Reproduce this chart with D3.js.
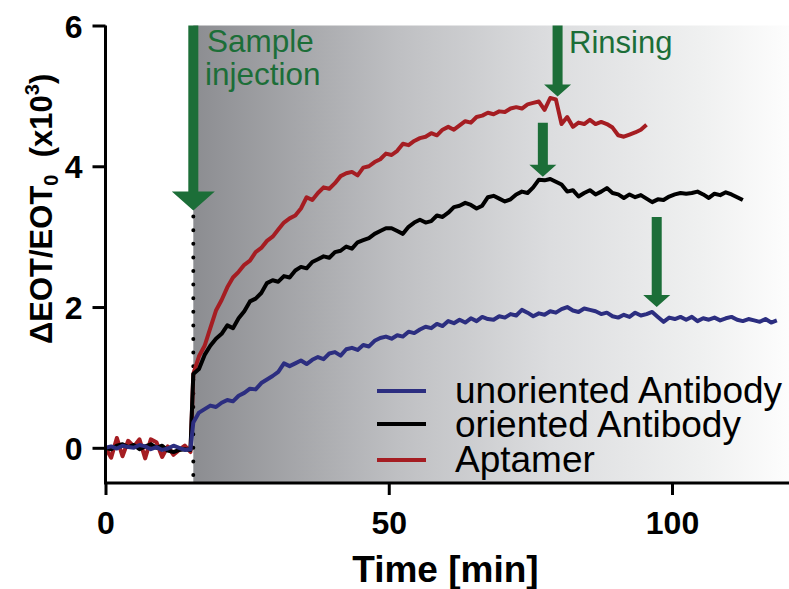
<!DOCTYPE html>
<html>
<head>
<meta charset="utf-8">
<script src="https://cdn.jsdelivr.net/npm/d3@7"></script>
<style>
  html, body { margin: 0; padding: 0; background: #fff; }
  svg { display: block; font-family: "Liberation Sans", Arial, sans-serif; }
</style>
</head>
<body>
<svg id="chart" width="789" height="589"></svg>
<script>
// Time of sample injection (min); values before it are sampled at t = 0,1,...,15,
// values after it at t = 15.5, 16.5, 17.5, ...
const injectionTime = 15.5;

const seriesNames = ["unoriented Antibody", "oriented Antibody", "Aptamer"];
const seriesColors = ["#2c2e80", "#000000", "#a51d22"];

// ΔEOT/EOT0 (x10^3), unoriented antibody
const unorientedPre = [0.00, 0.02, -0.01, 0.03, 0.01, 0.00, 0.04, 0.02, -0.02, 0.01, -0.03, -0.01, 0.03, 0.00, -0.03, -0.02];
const unorientedPost = [
  0.36, 0.50, 0.55, 0.60, 0.58, 0.64, 0.68, 0.66, 0.74, 0.78,
  0.84, 0.83, 0.92, 0.97, 1.02, 1.08, 1.20, 1.16, 1.20, 1.24,
  1.19, 1.25, 1.29, 1.26, 1.34, 1.36, 1.31, 1.40, 1.42, 1.39,
  1.46, 1.44, 1.52, 1.56, 1.58, 1.55, 1.60, 1.58, 1.65, 1.63,
  1.68, 1.72, 1.70, 1.76, 1.73, 1.80, 1.77, 1.82, 1.78, 1.84,
  1.80, 1.86, 1.83, 1.82, 1.87, 1.85, 1.90, 1.88, 1.96, 1.92,
  1.87, 1.91, 1.89, 1.94, 1.92, 1.97, 2.00, 1.95, 1.93, 1.98,
  1.96, 1.94, 1.90, 1.92, 1.87, 1.85, 1.89, 1.86, 1.92, 1.88,
  1.90, 1.93, 1.86, 1.79, 1.85, 1.83, 1.86, 1.82, 1.86, 1.80,
  1.84, 1.82, 1.85, 1.81, 1.84, 1.86, 1.82, 1.80, 1.83, 1.81,
  1.79, 1.83, 1.78, 1.81
];

// oriented antibody
const orientedPre = [0.00, -0.02, 0.03, 0.05, 0.01, 0.04, -0.02, 0.02, 0.05, 0.00, 0.03, -0.04, -0.06, -0.03, -0.02, -0.03];
const orientedPost = [
  1.05, 1.12, 1.32, 1.45, 1.55, 1.62, 1.74, 1.70, 1.84, 1.94,
  2.08, 2.12, 2.20, 2.34, 2.38, 2.36, 2.44, 2.42, 2.52, 2.57,
  2.55, 2.64, 2.68, 2.72, 2.70, 2.78, 2.80, 2.86, 2.83, 2.92,
  2.95, 2.98, 3.04, 3.08, 3.12, 3.12, 3.08, 3.04, 3.14, 3.20,
  3.24, 3.20, 3.22, 3.30, 3.28, 3.34, 3.42, 3.44, 3.48, 3.45,
  3.40, 3.44, 3.56, 3.58, 3.54, 3.50, 3.53, 3.60, 3.64, 3.62,
  3.70, 3.81, 3.80, 3.82, 3.78, 3.74, 3.64, 3.66, 3.57, 3.62,
  3.66, 3.60, 3.64, 3.69, 3.62, 3.60, 3.55, 3.60, 3.56, 3.59,
  3.54, 3.49, 3.53, 3.52, 3.57, 3.60, 3.62, 3.61, 3.62, 3.64,
  3.60, 3.55, 3.61, 3.59, 3.63, 3.60, 3.56, 3.52
];

// aptamer
const aptamerPre = [0.00, -0.14, 0.14, -0.12, 0.10, 0.02, 0.12, -0.15, 0.12, 0.08, -0.13, 0.02, -0.10, -0.03, 0.03, -0.06];
const aptamerPost = [
  1.05, 1.30, 1.45, 1.70, 1.95, 2.10, 2.28, 2.42, 2.50, 2.60,
  2.66, 2.78, 2.84, 2.94, 3.00, 3.10, 3.20, 3.26, 3.30, 3.40,
  3.56, 3.52, 3.62, 3.70, 3.68, 3.76, 3.86, 3.90, 3.92, 3.87,
  3.98, 4.00, 4.06, 4.10, 4.18, 4.16, 4.22, 4.32, 4.30, 4.36,
  4.40, 4.42, 4.47, 4.44, 4.52, 4.56, 4.52, 4.58, 4.64, 4.62,
  4.70, 4.72, 4.76, 4.74, 4.78, 4.77, 4.82, 4.84, 4.82, 4.88,
  4.90, 4.92, 4.80, 4.97, 4.95, 4.60, 4.70, 4.56, 4.62, 4.60,
  4.66, 4.60, 4.63, 4.60, 4.55, 4.44, 4.42, 4.45, 4.48, 4.52,
  4.59
];

const xTicks = [0, 50, 100];
const yTicks = [0, 2, 4, 6];

// Arrow annotations: time, shaft top value, tip value, head half-width, head height (px)
const arrowTimes = [15.5, 79.8, 77.2, 97.3];
const arrowTops = [6.0, 6.0, 4.62, 3.28];
const arrowTips = [3.37, 4.99, 3.85, 2.0];
const arrowHeadHalf = [21.5, 13.5, 13.5, 13.5];
const arrowHeadLen = [19, 12, 12, 12];

const svg = d3.select("#chart");
const x = d3.scaleLinear().domain([0, 120.65]).range([105.5, 789]);
const y = d3.scaleLinear().domain([-0.5, 6]).range([483, 25.5]);

function buildSeries(pre, post) {
  const pts = pre.map((v, i) => ({ t: i, v }));
  post.forEach((v, i) => pts.push({ t: injectionTime + i, v }));
  return pts;
}
const series = [
  buildSeries(unorientedPre, unorientedPost),
  buildSeries(orientedPre, orientedPost),
  buildSeries(aptamerPre, aptamerPost)
];

// shaded region after injection
const defs = svg.append("defs");
const grad = defs.append("linearGradient").attr("id", "shade")
  .attr("x1", "0%").attr("x2", "100%").attr("y1", "0%").attr("y2", "0%");
[[0, "#8c8d91"], [0.34, "#bebfc2"], [0.6, "#dcdddf"], [0.85, "#eff0f0"], [1, "#fdfdfd"]]
  .forEach(([o, c]) => grad.append("stop").attr("offset", o).attr("stop-color", c));

svg.append("rect")
  .attr("x", x(injectionTime)).attr("y", y(6))
  .attr("width", 789 - x(injectionTime)).attr("height", y(-0.5) - y(6))
  .attr("fill", "url(#shade)");

// dotted injection marker
svg.append("line")
  .attr("x1", x(injectionTime)).attr("x2", x(injectionTime))
  .attr("y1", y(3.37) + 6).attr("y2", y(-0.5))
  .attr("stroke", "#000").attr("stroke-width", 4)
  .attr("stroke-linecap", "round").attr("stroke-dasharray", "0 13.6");

// data lines (aptamer underneath, unoriented on top)
const line = d3.line().x(d => x(d.t)).y(d => y(d.v));
[2, 1, 0].forEach(i => {
  svg.append("path").datum(series[i])
    .attr("d", line)
    .attr("fill", "none")
    .attr("stroke", seriesColors[i])
    .attr("stroke-width", 4)
    .attr("stroke-linejoin", "round");
});

// arrows
const green = "#1c6e38";
arrowTimes.forEach((t, i) => {
  const cx = x(t), top = y(arrowTops[i]), tip = y(arrowTips[i]);
  const hh = arrowHeadHalf[i], hl = arrowHeadLen[i], sw = 5;
  const p = d3.path();
  p.moveTo(cx - sw, top);
  p.lineTo(cx + sw, top);
  p.lineTo(cx + sw, tip - hl);
  p.lineTo(cx + hh, tip - hl);
  p.lineTo(cx, tip);
  p.lineTo(cx - hh, tip - hl);
  p.lineTo(cx - sw, tip - hl);
  p.closePath();
  svg.append("path").attr("d", p.toString()).attr("fill", green);
});

// annotation text
svg.append("text").attr("x", 207).attr("y", 52).attr("fill", green)
  .attr("font-size", 31.5).text("Sample");
svg.append("text").attr("x", 205).attr("y", 85).attr("fill", green)
  .attr("font-size", 31.5).text("injection");
svg.append("text").attr("x", 569).attr("y", 53).attr("fill", green)
  .attr("font-size", 31).text("Rinsing");

// axes
const xAxis = svg.append("g").attr("transform", `translate(0,${y(-0.5)})`)
  .call(d3.axisBottom(x).tickValues(xTicks).tickSize(12).tickPadding(16).tickFormat(d3.format("d")));
const yAxis = svg.append("g").attr("transform", `translate(${x(0)},0)`)
  .call(d3.axisLeft(y).tickValues(yTicks).tickSize(13).tickPadding(10).tickFormat(d3.format("d")));
[xAxis, yAxis].forEach(g => {
  g.select(".domain").remove();
  g.selectAll(".tick line").attr("stroke", "#000").attr("stroke-width", 3);
  g.selectAll(".tick text").attr("fill", "#000")
    .attr("font-family", "'Liberation Sans', Arial, sans-serif")
    .attr("font-weight", "bold").attr("font-size", 32);
});
xAxis.selectAll(".tick text").attr("dy", "0.71em");
yAxis.selectAll(".tick text").attr("dy", "0.36em");

svg.append("path")
  .attr("d", `M${x(0)},${y(6)} V${y(-0.5)} H789`)
  .attr("fill", "none").attr("stroke", "#000").attr("stroke-width", 3);

// axis titles
svg.append("text").attr("x", (x(0) + x(120)) / 2).attr("y", 582)
  .attr("text-anchor", "middle").attr("font-weight", "bold").attr("font-size", 37)
  .text("Time [min]");

const yt = svg.append("text")
  .attr("transform", "translate(52,344) rotate(-90)")
  .attr("text-anchor", "start").attr("font-weight", "bold").attr("font-size", 31);
yt.append("tspan").text("\u0394EOT/EOT");
yt.append("tspan").attr("font-size", 20).attr("dy", 6).text("0");
yt.append("tspan").attr("dy", -6).text("\u00a0 (x10");
yt.append("tspan").attr("font-size", 20).attr("dy", -13).text("3");
yt.append("tspan").attr("dy", 13).text(")");

// legend
const legendY = [391, 424, 460];
const legendBase = [403, 437, 472];
seriesNames.forEach((name, i) => {
  svg.append("line").attr("x1", 377).attr("x2", 426)
    .attr("y1", legendY[i]).attr("y2", legendY[i])
    .attr("stroke", seriesColors[i]).attr("stroke-width", 4);
  svg.append("text").attr("x", 455).attr("y", legendBase[i])
    .attr("font-size", 37).attr("fill", "#000").text(name);
});
</script>
</body>
</html>
